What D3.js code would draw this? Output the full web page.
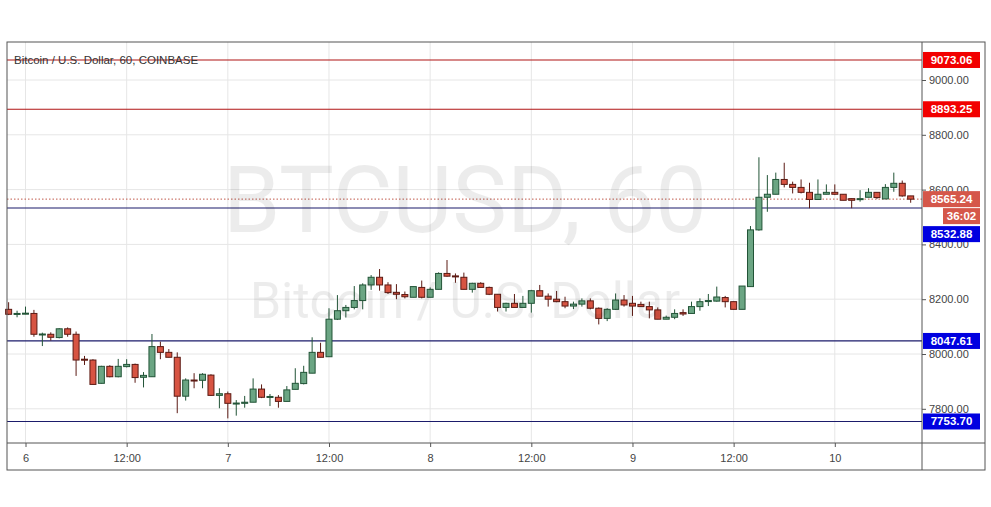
<!DOCTYPE html>
<html><head><meta charset="utf-8">
<script src="https://cdn.jsdelivr.net/npm/d3@7"></script>
<style>body{margin:0;background:#fff;font-family:"Liberation Sans",Arial,sans-serif}</style>
</head><body><svg id="c" width="991" height="507"></svg>
<script>
// hours relative to day-6 00:00; first candle is 22:00 of day 5
const startHour = -2;
const opens = [8163,8147,8148,8148,8072,8072,8060,8092,8072,7981,7978,7893,7955,7917,7954,7962,7915,7917,8027,8006,7988,7846,7905,7904,7923,7849,7855,7820,7820,7824,7872,7844,7842,7827,7871,7892,7930,8006,7990,
8127,8158,8170,8195,8252,8280,8252,8225,8217,8207,8243,8207,8236,8294,8285,8280,8236,8258,8243,8218,8170,8185,8170,8185,8231,8211,8200,8191,8175,8182,8194,8167,8130,8163,8197,
8185,8181,8173,8161,8127,8134,8151,8148,8173,8195,8193,8206,8191,8163,8246,8453,8572,8583,8637,8619,8608,8590,8564,8583,8590,8583,8567,8567,8572,8590,8566,8608,8623,8577];
const highs = [8189,8158,8173,8161,8078,8079,8094,8097,8082,7993,7981,7957,7959,7982,7981,7965,7934,8073,8045,8018,8006,7911,7930,7930,7926,7875,7863,7832,7847,7911,7889,7854,7850,7883,7948,7957,8061,8041,8167,
8215,8179,8248,8258,8288,8310,8262,8255,8228,8246,8268,8243,8298,8343,8294,8297,8260,8262,8246,8218,8187,8219,8212,8234,8252,8221,8230,8209,8191,8203,8203,8170,8167,8221,8215,
8212,8191,8191,8170,8140,8163,8163,8191,8203,8219,8246,8212,8191,8248,8467,8718,8653,8662,8698,8629,8637,8625,8637,8619,8619,8583,8567,8598,8605,8590,8620,8662,8633,8577];
const lows = [8142,8134,8145,8063,8029,8049,8057,8063,7920,7960,7889,7892,7915,7915,7951,7895,7878,7917,7981,7988,7784,7830,7875,7875,7847,7802,7765,7775,7804,7824,7839,7810,7804,7827,7871,7889,7930,7988,7990,
8124,8133,8163,8163,8234,8231,8219,8200,8203,8207,8203,8207,8236,8282,8260,8236,8224,8242,8215,8155,8155,8170,8170,8151,8211,8173,8189,8167,8164,8173,8163,8108,8120,8161,8173,
8139,8173,8130,8127,8127,8127,8139,8148,8158,8175,8191,8170,8163,8163,8246,8450,8519,8583,8608,8586,8586,8532,8564,8583,8580,8561,8532,8556,8572,8566,8566,8592,8574,8552];
const closes = [8145,8148,8149,8072,8073,8061,8092,8072,7978,7980,7889,7955,7917,7955,7962,7914,7922,8027,8006,7988,7846,7905,7904,7926,7849,7855,7820,7821,7824,7872,7842,7845,7827,7869,7893,7933,8006,7988,8127,
8158,8170,8195,8252,8280,8252,8224,8218,8209,8246,8207,8236,8294,8284,8282,8236,8258,8243,8218,8170,8185,8170,8185,8231,8211,8200,8191,8175,8182,8194,8167,8130,8163,8197,8179,
8175,8173,8161,8127,8134,8148,8146,8173,8191,8195,8208,8191,8163,8248,8453,8572,8583,8637,8619,8608,8590,8564,8583,8590,8583,8561,8561,8567,8590,8571,8608,8623,8577,8565];
const priceTicks = [7800,8000,8200,8400,8600,8800,9000];
const timeTickHours = [0,12,24,36,48,60,72,84,96];
const timeTickLabels = ["6","12:00","7","12:00","8","12:00","9","12:00","10"];
const redLevels = [9073.06, 8893.25];
const blueLevels = [8532.88, 8047.61, 7753.70];
const lastPrice = 8565.24, countdown = "36:02";

const svg = d3.select("#c");
const L=7,R=922,T=42,B=443;
const x = d3.scaleLinear().domain([0,96]).range([25.5,834.8]);
const y = d3.scaleLinear().domain([8000,9000]).range([354,80]);
const g = svg.append("g");
svg.append("rect").attr("x",L).attr("y",T).attr("width",978).attr("height",428).attr("fill","none").attr("stroke","#555").attr("stroke-width",1);
g.selectAll(".vg").data(timeTickHours).join("line").attr("x1",d=>x(d)).attr("x2",d=>x(d)).attr("y1",T).attr("y2",B).attr("stroke","#e6e6e6");
g.selectAll(".hg").data(priceTicks).join("line").attr("x1",L).attr("x2",R).attr("y1",d=>y(d)).attr("y2",d=>y(d)).attr("stroke","#e6e6e6");
svg.append("text").attr("x",465).attr("y",232).attr("text-anchor","middle").attr("font-size",92).attr("fill","#000").attr("opacity",0.07).attr("font-family","Roboto, sans-serif").text("BTCUSD, 60");
svg.append("text").attr("x",465).attr("y",318).attr("text-anchor","middle").attr("font-size",50).attr("fill","#000").attr("opacity",0.07).attr("font-family","Roboto, sans-serif").text("Bitcoin / U.S. Dollar");
g.selectAll(".rl").data(redLevels).join("line").attr("x1",L).attr("x2",R).attr("y1",d=>y(d)).attr("y2",d=>y(d)).attr("stroke","#b01515").attr("stroke-width",1.2);
g.selectAll(".bl").data(blueLevels).join("line").attr("x1",L).attr("x2",R).attr("y1",d=>y(d)).attr("y2",d=>y(d)).attr("stroke","#1b1b6b").attr("stroke-width",1.2);
g.append("line").attr("x1",L).attr("x2",R).attr("y1",y(lastPrice)).attr("y2",y(lastPrice)).attr("stroke","#c0584a").attr("stroke-dasharray","1.5,2");
const idx = d3.range(opens.length);
const cg = g.append("g");
idx.forEach(i=>{
  const h=startHour+i, cx=x(h), up=closes[i]>=opens[i];
  const fill=up?"#6ba583":"#d75442", st=up?"#225437":"#5b1a13";
  cg.append("line").attr("x1",cx).attr("x2",cx).attr("y1",y(highs[i])).attr("y2",y(lows[i])).attr("stroke",st);
  const y0=y(Math.max(opens[i],closes[i])), y1=y(Math.min(opens[i],closes[i]));
  cg.append("rect").attr("x",cx-3).attr("y",y0).attr("width",6).attr("height",Math.max(1,y1-y0)).attr("fill",fill).attr("stroke",st).attr("stroke-width",1);
});
svg.append("line").attr("x1",R).attr("x2",R).attr("y1",T).attr("y2",470).attr("stroke","#555");
svg.append("line").attr("x1",L).attr("x2",985).attr("y1",B).attr("y2",B).attr("stroke","#555");
const ya = svg.append("g").attr("transform",`translate(${R},0)`).call(d3.axisRight(y).tickValues(priceTicks).tickFormat(d3.format(".2f")).tickSize(4));
ya.select(".domain").remove();
ya.selectAll("text").attr("font-size",11).attr("fill","#444").attr("font-family","Liberation Sans, Arial");
ya.selectAll("line").attr("stroke","#555");
const xa = svg.append("g").attr("transform",`translate(0,${B})`).call(d3.axisBottom(x).tickValues(timeTickHours).tickFormat((d,i)=>timeTickLabels[i]).tickSize(4));
xa.select(".domain").remove();
xa.selectAll("text").attr("font-size",11).attr("fill","#444").attr("dy","1.1em").attr("font-family","Liberation Sans, Arial");
xa.selectAll("line").attr("stroke","#555");
function tag(val,bg,txt,dy){
  const yy=y(val)+(dy||0);
  svg.append("rect").attr("x",R+1).attr("y",yy-8).attr("width",57).attr("height",16).attr("fill",bg);
  svg.append("text").attr("x",R+29.5).attr("y",yy+4).attr("text-anchor","middle").attr("font-size",11.5).attr("font-weight","bold").attr("fill","#fff").text(txt);
}
redLevels.forEach(v=>tag(v,"#f20000",v.toFixed(2)));
blueLevels.forEach(v=>tag(v,"#0000e0",v.toFixed(2), v===8532.88 ? y(lastPrice)+35-y(v) : 0));
tag(lastPrice,"#d5574a",lastPrice.toFixed(2));
svg.append("rect").attr("x",R+21).attr("y",y(lastPrice)+9).attr("width",37).attr("height",16).attr("fill","#d5574a");
svg.append("text").attr("x",R+39.5).attr("y",y(lastPrice)+21).attr("text-anchor","middle").attr("font-size",11.5).attr("font-weight","bold").attr("fill","#fff").text(countdown);
svg.append("text").attr("x",14).attr("y",64).attr("font-size",11.5).attr("fill","#333").text("Bitcoin / U.S. Dollar, 60, COINBASE");
</script></body></html>
